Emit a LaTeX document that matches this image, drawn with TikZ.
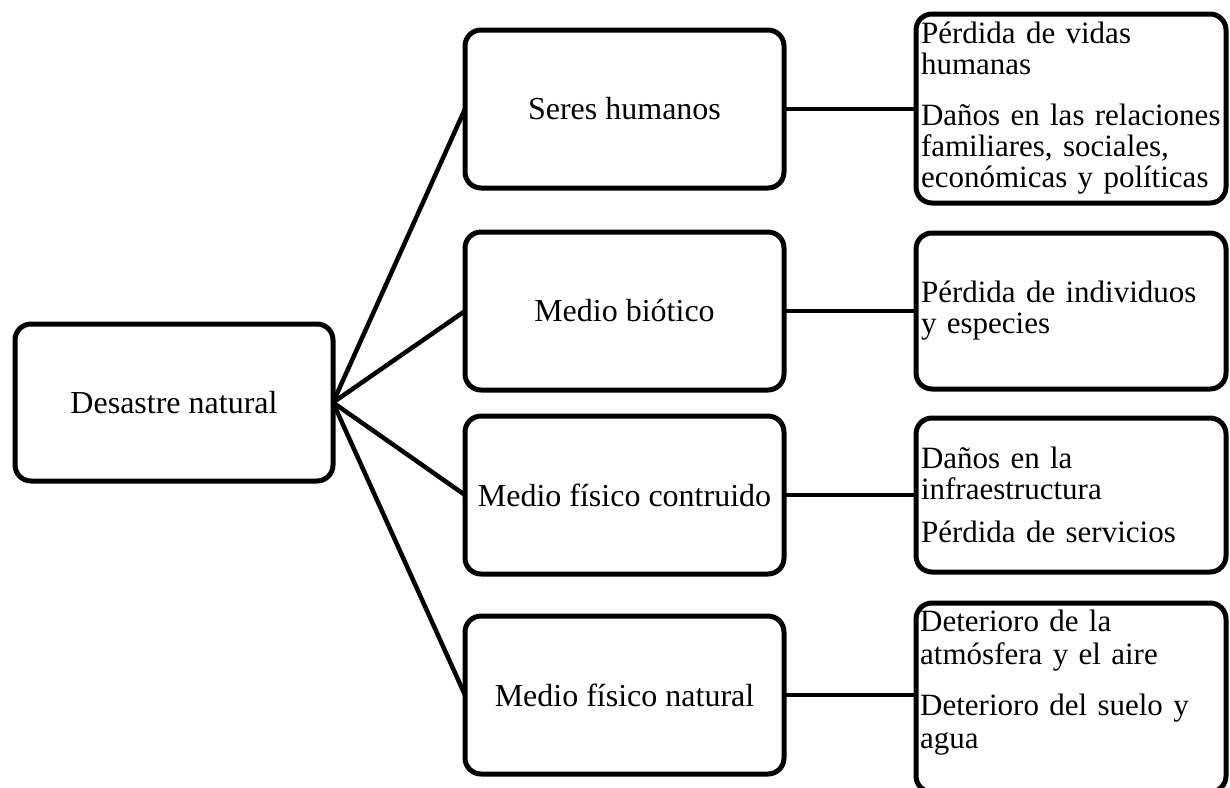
\documentclass[tikz,border=0pt]{standalone}
\usepackage{fontspec}
\setmainfont{Liberation Serif}
\begin{document}
\begin{tikzpicture}[x=1pt,y=-1pt,
  txt/.style={font=\fontsize{31pt}{31pt}\selectfont},
  box/.style={txt, draw, line width=5pt, rounded corners=16pt, inner sep=0pt, outer sep=0pt, align=center},
  midbox/.style={box, font=\fontsize{32pt}{32pt}\selectfont, minimum width=319pt, minimum height=158pt},
  rbox/.style={box, minimum width=310pt, inner xsep=5pt, text width=300pt, align=left},
  link/.style={line width=4.5pt}]
\useasboundingbox (0,0) rectangle (1230,787);
\node[midbox, minimum width=318pt, minimum height=157pt] (d) at (174,402.5) {Desastre natural};
\node[midbox] (s1) at (624.5,109) {Seres humanos};
\node[midbox] (s2) at (624.5,311) {Medio biótico};
\node[midbox] (s3) at (624.5,495) {Medio físico contruido};
\node[midbox] (s4) at (624.5,695) {Medio físico natural};
\node[rbox, minimum height=189pt] (r1) at (1071,108.5) {Pérdida de vidas\\humanas\\[20pt]Daños en las relaciones\\familiares, sociales,\\económicas y políticas};
\node[rbox, minimum height=156pt] (r2) at (1071,311) {Pérdida de individuos\\y especies};
\node[rbox, minimum height=154pt] (r3) at (1071,495) {Daños en la\\infraestructura\\[12pt]Pérdida de servicios};
\node[box, minimum width=310pt, minimum height=189pt] (r4) at (1071,697.5) {};
\node[font=\fontsize{31pt}{33pt}\selectfont, anchor=north west, inner sep=0pt, text width=300pt, align=left] (t4) at (920,610) {Deterioro de la\\atmósfera y el aire\\[18pt]Deterioro del suelo y\\agua};
\foreach \s in {s1,s2,s3,s4} {
  \draw[link] (d.east) -- (\s.west);
}
\draw[link] (s1.east) -- (s1.east -| r1.west);
\draw[link] (s2.east) -- (s2.east -| r2.west);
\draw[link] (s3.east) -- (s3.east -| r3.west);
\draw[link] (s4.east) -- (s4.east -| r4.west);
\end{tikzpicture}
\end{document}
